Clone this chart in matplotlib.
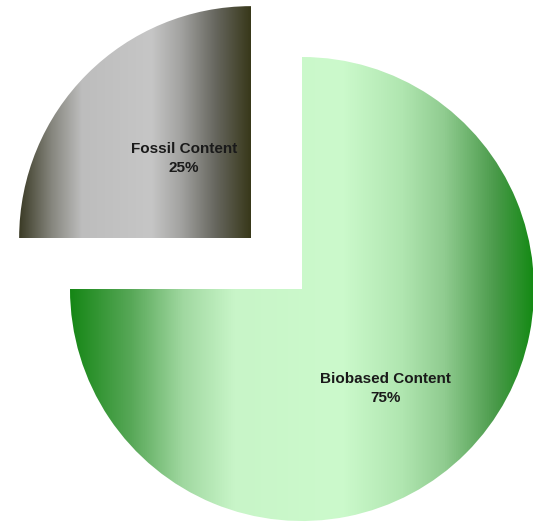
import numpy as np
import matplotlib
matplotlib.use("Agg")
import matplotlib.pyplot as plt
from matplotlib.patches import Wedge
from matplotlib.colors import LinearSegmentedColormap

labels = ["Fossil Content", "Biobased Content"]
values = [25, 75]

# horizontal shading across each slice: (position, colour)
fossil_stops = [(0.0, "#3b3b26"), (0.14, "#86867e"), (0.27, "#bdbdbd"),
                (0.57, "#c6c6c6"), (0.7, "#a2a2a0"), (0.85, "#66665e"), (1.0, "#38381a")]
bio_stops = [(0.0, "#168616"), (0.13, "#58a858"), (0.24, "#a0d8a0"), (0.35, "#c8f5c8"),
             (0.58, "#ccfacc"), (0.71, "#b0e6b0"), (0.8, "#90cc90"), (0.91, "#4a9a4a"),
             (1.0, "#0e880e")]
explode = [0.31, 0.0]
label_dist = [0.45, 0.56]
label_turn = -5  # degrees off the slice middle

W, H = 533, 525
fig = plt.figure(figsize=(W / 100, H / 100), dpi=100)
ax = fig.add_axes([0, 0, 1, 1])
ax.set_xlim(0, W)
ax.set_ylim(0, H)
ax.set_aspect("equal")
ax.axis("off")

center = np.array([302.0, 236.0])
R = 232.0
start = 90.0
total = sum(values)

for lab, val, ex, ld, stops in zip(labels, values, explode, label_dist, [fossil_stops, bio_stops]):
    span = 360.0 * val / total
    mid = np.radians(start + span / 2)
    direction = np.array([np.cos(mid), np.sin(mid)])
    c = center + direction * ex * R
    w = Wedge(c, R, start, start + span, facecolor="none", edgecolor="none")
    ax.add_patch(w)
    # bbox of the slice for the gradient
    verts = w.get_path().vertices
    x0, x1 = verts[:, 0].min(), verts[:, 0].max()
    y0, y1 = verts[:, 1].min(), verts[:, 1].max()
    cmap = LinearSegmentedColormap.from_list(lab, stops)
    grad = np.linspace(0, 1, 512).reshape(1, -1)
    im = ax.imshow(grad, cmap=cmap, extent=[x0, x1, y0, y1], aspect="auto",
                   interpolation="bilinear", origin="lower")
    im.set_clip_path(w)
    la = mid + np.radians(label_turn)
    pos = c + np.array([np.cos(la), np.sin(la)]) * ld * R
    ax.text(pos[0], pos[1], f"{lab}\n{val}%", ha="center", va="center",
            fontsize=11, fontweight="bold", family="Liberation Sans",
            color="#1a1a1a", linespacing=1.45)
    start += span

ax.set_xlim(0, W)
ax.set_ylim(0, H)
fig.savefig("out.png", dpi=100)
